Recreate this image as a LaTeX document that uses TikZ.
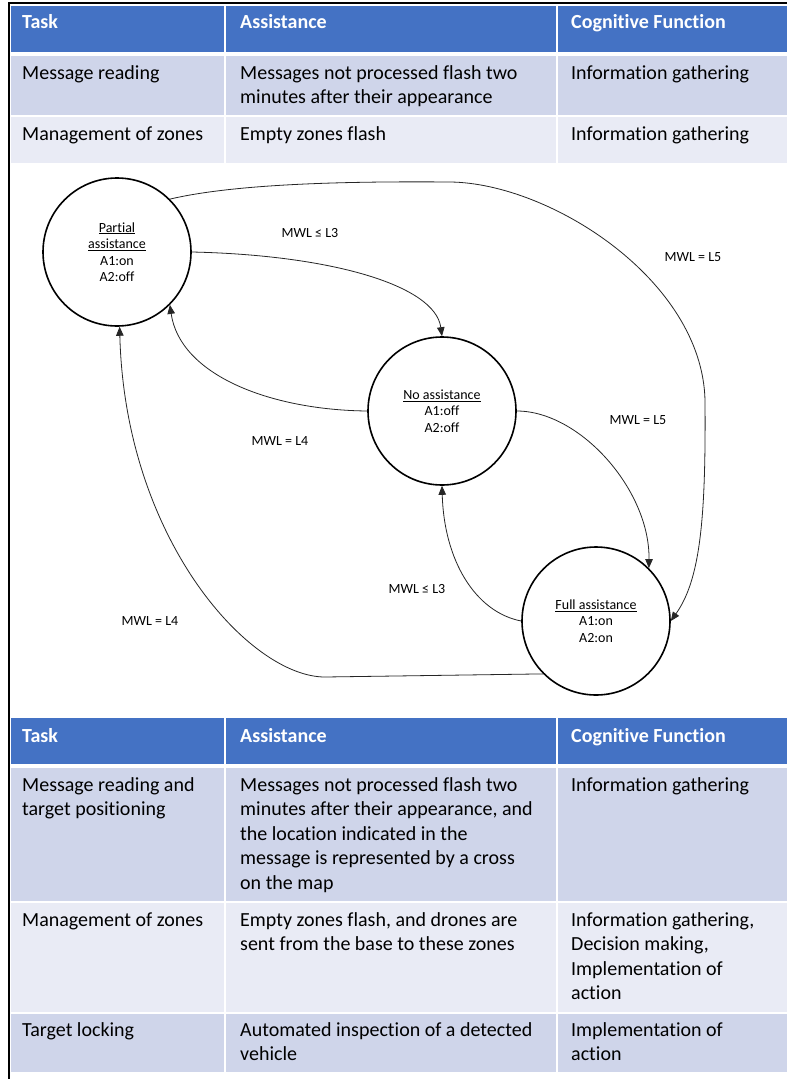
\documentclass[tikz,border=0pt]{standalone}
\usepackage{fontspec}
\setmainfont{Carlito}[Ligatures=NoCommon]
\usetikzlibrary{arrows.meta}
\definecolor{hdr}{HTML}{4472C4}
\definecolor{rowa}{HTML}{CFD5EA}
\definecolor{rowb}{HTML}{E9EBF5}
\tikzset{
  cell/.style={anchor=base west, inner sep=0pt, align=left, font=\fontsize{20}{24.5}\selectfont},
  hcell/.style={cell, text=white, font=\fontsize{20}{24.5}\selectfont\bfseries},
  state/.style={circle, draw, line width=1.6pt, minimum size=148pt, inner sep=0pt, align=center, font=\fontsize{14}{16.5}\selectfont},
  trans/.style={draw=black!85, line width=0.8pt, -{Triangle[length=9pt,width=7.5pt]}},
  lbl/.style={inner sep=0pt, font=\fontsize{14}{16}\selectfont},
}
\begin{document}
\begin{tikzpicture}[x=1pt,y=-1pt]
\useasboundingbox (0,0) rectangle (787,1079);
\fill[white] (0,0) rectangle (787,1079);
% ---------- top table ----------
\fill[hdr] (11,6) rectangle (224,52);
\fill[hdr] (226,6) rectangle (556,52);
\fill[hdr] (558,6) rectangle (787,52);
\fill[rowa] (11,56) rectangle (224,115);
\fill[rowa] (226,56) rectangle (556,115);
\fill[rowa] (558,56) rectangle (787,115);
\fill[rowb] (11,117) rectangle (224,163);
\fill[rowb] (226,117) rectangle (556,163);
\fill[rowb] (558,117) rectangle (787,163);
% (multi-line cells are placed by the baseline of their last line)
\node[hcell] (t1h1) at (22,28) {Task};
\node[hcell] (t1h2) at (240,28) {Assistance};
\node[hcell] (t1h3) at (571,28) {Cognitive Function};
\node[cell] (t1a1) at (22,79) {Message reading};
\node[cell] (t1a2) at (240,103.5) {Messages not processed flash two\\minutes after their appearance};
\node[cell] (t1a3) at (571,79) {Information gathering};
\node[cell] (t1b1) at (22,140) {Management of zones};
\node[cell] (t1b2) at (240,140) {Empty zones flash};
\node[cell] (t1b3) at (571,140) {Information gathering};
% ---------- bottom table ----------
\fill[hdr] (11,718) rectangle (224,764);
\fill[hdr] (226,718) rectangle (556,764);
\fill[hdr] (558,718) rectangle (787,764);
\fill[rowa] (11,768) rectangle (224,901);
\fill[rowa] (226,768) rectangle (556,901);
\fill[rowa] (558,768) rectangle (787,901);
\fill[rowb] (11,903) rectangle (224,1012);
\fill[rowb] (226,903) rectangle (556,1012);
\fill[rowb] (558,903) rectangle (787,1012);
\fill[rowa] (11,1014) rectangle (224,1072);
\fill[rowa] (226,1014) rectangle (556,1072);
\fill[rowa] (558,1014) rectangle (787,1072);
\node[hcell] (t2h1) at (22,742) {Task};
\node[hcell] (t2h2) at (240,742) {Assistance};
\node[hcell] (t2h3) at (571,742) {Cognitive Function};
\node[cell] (t2a1) at (22,815.5) {Message reading and\\target positioning};
\node[cell] (t2a2) at (240,889) {Messages not processed flash two\\minutes after their appearance, and\\the location indicated in the\\message is represented by a cross\\on the map};
\node[cell] (t2a3) at (571,791) {Information gathering};
\node[cell] (t2b1) at (22,926) {Management of zones};
\node[cell] (t2b2) at (240,950.5) {Empty zones flash, and drones are\\sent from the base to these zones};
\node[cell] (t2b3) at (571,999.5) {Information gathering,\\Decision making,\\Implementation of\\action};
\node[cell] (t2c1) at (22,1036) {Target locking};
\node[cell] (t2c2) at (240,1060.5) {Automated inspection of a detected\\vehicle};
\node[cell] (t2c3) at (571,1060.5) {Implementation of\\action};
% ---------- frame ----------
\draw[line width=2.4pt] (9,1079) -- (9,3) -- (787,3);
% ---------- state diagram ----------
\node[state] (P) at (117,252) {\underline{Partial}\\\underline{assistance}\\A1:on\\A2:off};
\node[state] (N) at (442,411) {\underline{No assistance}\\A1:off\\A2:off};
\node[state] (F) at (596,621) {\underline{Full assistance}\\A1:on\\A2:on};
\draw[trans] (P.east) .. controls (330,255) and (435,285) .. (N.north);
\draw[trans] (N.west) .. controls (270,410) and (180,375) .. (P.-45);
\draw[trans] (P.45) .. controls (230,185) and (330,181) .. (450,182)
   .. controls (550,183) and (702,280) .. (705,400)
   .. controls (706,520) and (700,580) .. (F.east);
\draw[trans] (N.east) .. controls (580,411) and (650,490) .. (F.45);
\draw[trans] (F.west) .. controls (475,612) and (444,560) .. (N.south);
\draw[trans] (F.-135) -- (325,677) .. controls (250,677) and (125,540) .. (P.-88);
\node[lbl] (l1) at (310,233) {MWL ≤ L3};
\node[lbl] (l2) at (693,257) {MWL = L5};
\node[lbl] (l3) at (280,441) {MWL = L4};
\node[lbl] (l4) at (638,420) {MWL = L5};
\node[lbl] (l5) at (417,589) {MWL ≤ L3};
\node[lbl] (l6) at (150,621) {MWL = L4};
\end{tikzpicture}
\end{document}
